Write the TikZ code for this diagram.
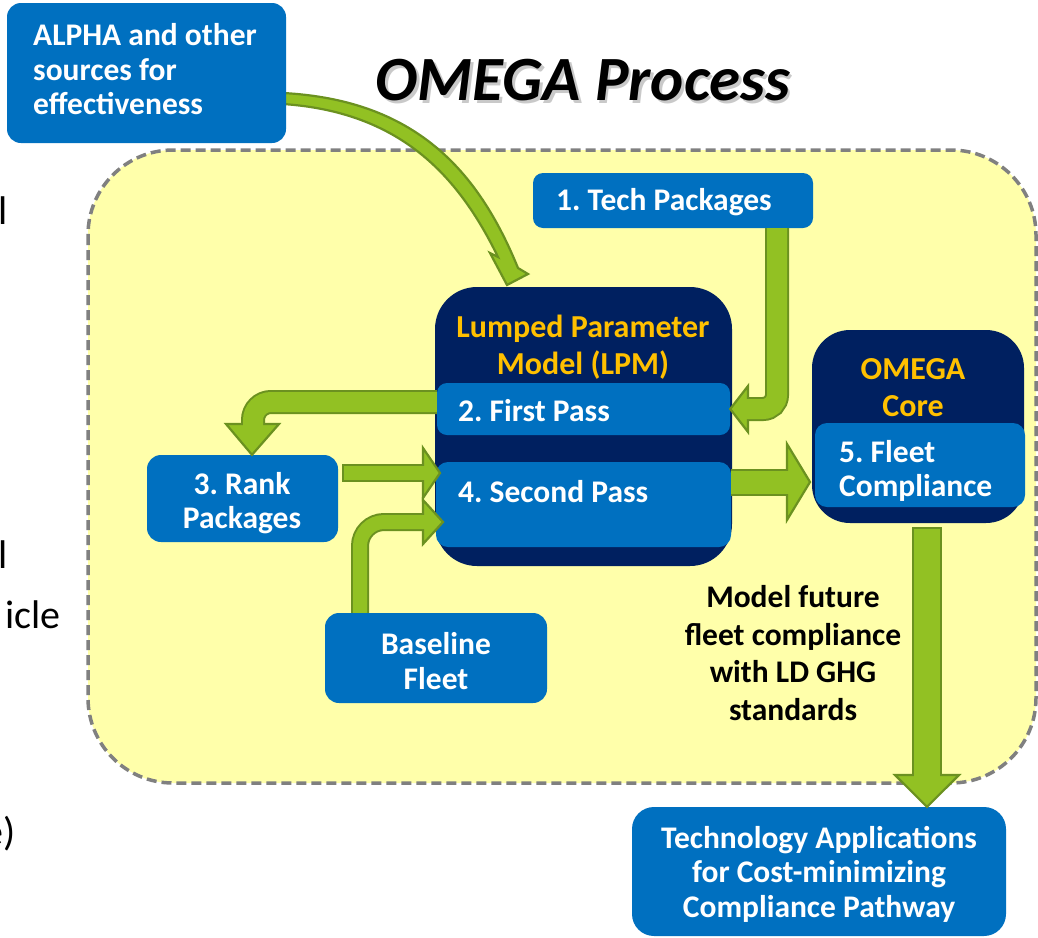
\documentclass[tikz,border=0pt]{standalone}
\usepackage{fontspec}
\setmainfont{Carlito}
\usetikzlibrary{calc}
\definecolor{boxblue}{RGB}{0,112,192}
\definecolor{navy}{RGB}{0,32,96}
\definecolor{gold}{RGB}{255,192,0}
\definecolor{pale}{RGB}{255,255,170}
\definecolor{dashgray}{RGB}{128,128,128}
\definecolor{agreen}{RGB}{146,193,35}
\definecolor{aborder}{RGB}{107,145,32}
\begin{document}
\frenchspacing
\begin{tikzpicture}[x=1pt,y=-1pt,
  bluebox/.style={fill=boxblue, rounded corners=14, inner sep=0, draw=none},
  navybox/.style={fill=navy, rounded corners=42, inner sep=0},
  wlabel/.style={text=white, font=\bfseries\fontsize{31.5}{34.5}\selectfont, align=center, inner sep=0},
  glabel/.style={text=gold, font=\bfseries\fontsize{32}{37.5}\selectfont, align=center, inner sep=0},
  blabel/.style={text=black, font=\bfseries\fontsize{31.5}{37.5}\selectfont, align=center, inner sep=0},
  frag/.style={text=black, font=\fontsize{40}{46}\selectfont, inner sep=0},
  arrowhead/.style={fill=agreen, draw=aborder, line width=2.2, line join=miter},
  shaftedge/.style={draw=aborder},
  shaftfill/.style={draw=agreen},
]
\useasboundingbox (0,0) rectangle (1038,937);
\fill[white] (0,0) rectangle (1038,937);

% region
\draw[fill=pale, draw=dashgray, line width=3.5, dash pattern=on 10 off 5, rounded corners=85] (88,150) rectangle (1036,783);

% cut-off text at left edge
\node[frag, anchor=base east] (fragA) at (8,224) {l};
\node[frag, anchor=base east] (fragB) at (8,568) {l};
\node[frag, anchor=base east] (fragC) at (61,628) {icle};
\node[frag, anchor=base east] (fragD) at (16,845) {e)};

% title
\node[text=black!35, opacity=0.6, font=\bfseries\itshape\fontsize{63}{70}\selectfont, inner sep=0] (titleshadow) at (585.5,83) {OMEGA Process};
\node[text=black, font=\bfseries\itshape\fontsize{63}{70}\selectfont, inner sep=0] (title) at (583,80) {OMEGA Process};

% curved arrow from ALPHA
\filldraw[arrowhead] (283,93) .. controls (415,100) and (478,170) .. (518,268) -- (528,274) -- (507,285) -- (490,253) -- (498,257) .. controls (458,175) and (400,112) .. (283,104) -- cycle;

% boxes
\node[bluebox, minimum width=279, minimum height=140] (alpha) at (146.5,73) {};
\node[wlabel, align=left, anchor=west] (alphalbl) at (33,69.5) {ALPHA and other\\sources for\\effectiveness};

\node[bluebox, minimum width=280, minimum height=55, rounded corners=10] (tech) at (673,200.5) {};
\node[wlabel] (techlbl) at (664,202) {1. Tech Packages};

\node[navybox, minimum width=297, minimum height=279] (lpm) at (583.5,426.5) {};
\node[glabel] (lpmlbl) at (583,347) {Lumped Parameter\\Model (LPM)};
\node[bluebox, minimum width=293, minimum height=52, rounded corners=10] (first) at (583.5,409) {};
\node[wlabel, anchor=west] (firstlbl) at (458,411) {2. First Pass};
\node[bluebox, minimum width=295, minimum height=85, rounded corners=12] (second) at (583.5,504.5) {};
\node[wlabel, anchor=west] (secondlbl) at (458,492) {4. Second Pass};

\node[navybox, minimum width=212, minimum height=193, rounded corners=38] (core) at (918,426.5) {};
\node[glabel] (corelbl) at (913,387.5) {OMEGA\\Core};
\node[bluebox, minimum width=210, minimum height=84, rounded corners=12] (fleet) at (920,465) {};
\node[wlabel, align=left, anchor=west] (fleetlbl) at (839,471) {5. Fleet\\Compliance};

\node[bluebox, minimum width=191, minimum height=87] (rank) at (242.5,498.5) {};
\node[wlabel] (ranklbl) at (242,503) {3. Rank\\Packages};

\node[bluebox, minimum width=222, minimum height=90] (baseline) at (436,658) {};
\node[wlabel] (baselinelbl) at (436,661) {Baseline\\Fleet};

\node[bluebox, minimum width=374, minimum height=129, rounded corners=22] (apps) at (819,871.5) {};
\node[wlabel] (appslbl) at (819,874) {Technology Applications\\for Cost-minimizing\\Compliance Pathway};

\node[blabel] (note) at (793,653) {Model future\\fleet compliance\\with LD GHG\\standards};

% A1 Tech -> First Pass
\draw[shaftedge, line width=24, rounded corners=14] (777,0 |- tech.south) -- (777,409) -- (748,409);
\filldraw[arrowhead] (748,386) -- (first.east) -- (748,432) -- cycle;
\draw[shaftfill, line width=20, rounded corners=14] (777,0 |- tech.south) -- (777,409) -- (744,409);

% A2 First Pass -> Rank
\draw[shaftedge, line width=24, rounded corners=18] (first.west |- 0,402) -- (253,402) -- (253,424);
\filldraw[arrowhead] (226,424) -- (252,0 |- rank.north) -- (279,424) -- cycle;
\draw[shaftfill, line width=20, rounded corners=18] (first.west |- 0,402) -- (253,402) -- (253,428);

% A3 Rank -> Second Pass
\draw[shaftedge, line width=18] ($(rank.east |- 0,473)+(4,0)$) -- (423,473);
\filldraw[arrowhead] (423,448) -- (440,473) -- (423,498) -- cycle;
\draw[shaftfill, line width=14] ($(rank.east |- 0,473)+(6,0)$) -- (427,473);

% A4 Baseline -> Second Pass
\draw[shaftedge, line width=18, rounded corners=24] (360,0 |- baseline.north) -- (360,522) -- (423,522);
\filldraw[arrowhead] (423,500) -- (443,522) -- (423,544) -- cycle;
\draw[shaftfill, line width=14, rounded corners=24] (360,0 |- baseline.north) -- (360,522) -- (427,522);

% A5 Second Pass -> Fleet Compliance
\draw[shaftedge, line width=27] (second.east |- 0,482) -- (787,482);
\filldraw[arrowhead] (787,444) -- (810,482) -- (787,520) -- cycle;
\draw[shaftfill, line width=23] (second.east |- 0,482) -- (792,482);

% A6 Core -> Tech Applications
\draw[shaftedge, line width=30] ($(927,0 |- core.south)+(0,4)$) -- (927,775);
\filldraw[arrowhead] (895,775) -- (927,0 |- apps.north) -- (959,775) -- cycle;
\draw[shaftfill, line width=26] ($(927,0 |- core.south)+(0,6)$) -- (927,780);
\end{tikzpicture}
\end{document}
